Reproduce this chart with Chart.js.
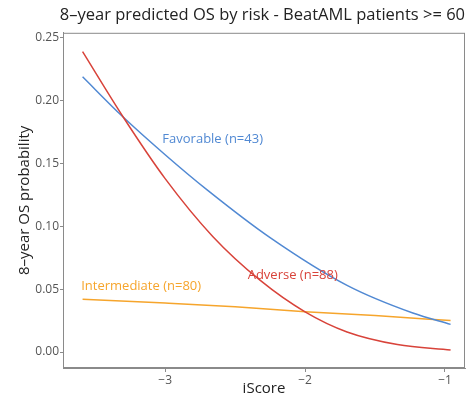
<!DOCTYPE html>
<html lang="en">
  <head>
    <meta charset="UTF-8" />
    <title>8-year predicted OS by risk</title>
    <script src="https://cdn.jsdelivr.net/npm/chart.js"></script>
    <style>
      html, body { margin: 0; padding: 0; background: #fff; }
      .wrap { width: 474px; height: 398px; }
    </style>
  </head>
  <body>
    <div class="wrap"><canvas id="osChart" width="474" height="398"></canvas></div>
    <script>
      // values
      const adverseX = [-3.59, -3.3, -3.0, -2.66, -2.32, -2.0, -1.7, -1.34, -0.96];
      const adverseY = [0.239, 0.187, 0.138, 0.092, 0.057, 0.032, 0.016, 0.006, 0.0016];
      const favorableX = [-3.59, -3.31, -3.0, -2.7, -2.25, -1.7, -1.23, -0.96];
      const favorableY = [0.219, 0.188, 0.157, 0.129, 0.091, 0.053, 0.031, 0.022];
      const intermediateX = [-3.59, -3.0, -2.5, -2.0, -1.5, -0.96];
      const intermediateY = [0.042, 0.039, 0.036, 0.032, 0.029, 0.025];
      const xTicks = [-3, -2, -1];
      const yTicks = [0, 0.05, 0.1, 0.15, 0.2, 0.25];
      const seriesLabels = ["Adverse (n=88)", "Favorable (n=43)", "Intermediate (n=80)"];

      const red = "#d8433a";
      const blue = "#5189d3";
      const orange = "#f6a52c";
      const font = "'Open Sans', 'DejaVu Sans', sans-serif";

      function toPoints(xs, ys) {
        return xs.map((x, i) => ({ x: x, y: ys[i] }));
      }

      // text labels placed at data coordinates
      const curveLabels = [
        { text: seriesLabels[1], x: -3.02, y: 0.169, color: blue },
        { text: seriesLabels[0], x: -2.41, y: 0.061, color: red },
        { text: seriesLabels[2], x: -3.6, y: 0.052, color: orange },
      ];

      const extras = {
        id: "extras",
        afterDraw(chart) {
          const ctx = chart.ctx;
          const a = chart.chartArea;
          const xs = chart.scales.x;
          const ys = chart.scales.y;
          ctx.save();
          ctx.strokeStyle = "#8a8a8a";
          ctx.lineWidth = 1;
          ctx.strokeRect(a.left + 0.5, a.top + 0.5, a.right - a.left - 1, a.bottom - a.top - 1);
          ctx.font = "13px " + font;
          ctx.textBaseline = "middle";
          ctx.textAlign = "left";
          curveLabels.forEach((l) => {
            ctx.fillStyle = l.color;
            ctx.fillText(l.text, xs.getPixelForValue(l.x), ys.getPixelForValue(l.y));
          });
          ctx.restore();
        },
      };

      new Chart(document.getElementById("osChart"), {
        type: "line",
        data: {
          datasets: [
            { label: seriesLabels[0], data: toPoints(adverseX, adverseY), borderColor: red },
            { label: seriesLabels[1], data: toPoints(favorableX, favorableY), borderColor: blue },
            { label: seriesLabels[2], data: toPoints(intermediateX, intermediateY), borderColor: orange },
          ],
        },
        options: {
          responsive: false,
          animation: false,
          datasets: {
            line: { borderWidth: 1.5, pointRadius: 0, cubicInterpolationMode: "monotone", fill: false },
          },
          layout: { padding: { left: 16, right: 9, top: 0, bottom: 0 } },
          plugins: {
            legend: { display: false },
            tooltip: { enabled: false },
            title: {
              display: true,
              text: "8\u2013year predicted OS by risk - BeatAML patients >= 60",
              color: "#222",
              font: { family: font, size: 16.5, weight: "normal" },
              padding: { top: 5, bottom: 8 },
              align: "end",
            },
          },
          scales: {
            x: {
              type: "linear",
              min: -3.73,
              max: -0.857,
              afterBuildTicks: (s) => { s.ticks = xTicks.map((v) => ({ value: v })); },
              afterFit: (s) => { s.height = 30; },
              ticks: {
                color: "#555",
                font: { family: font, size: 12 },
                padding: 1,
                callback: (v) => "\u2212" + Math.abs(v),
              },
              grid: { drawOnChartArea: false, drawTicks: true, tickLength: 4, color: "#8a8a8a" },
              border: { display: true, color: "#8a8a8a" },
              title: {
                display: true,
                text: "iScore",
                color: "#222",
                font: { family: font, size: 15 },
                padding: { top: 0, bottom: 0 },
              },
            },
            y: {
              type: "linear",
              min: -0.0127,
              max: 0.254,
              afterBuildTicks: (s) => { s.ticks = yTicks.map((v) => ({ value: v })); },
              afterFit: (s) => { s.width = 47; },
              ticks: {
                color: "#555",
                font: { family: font, size: 12 },
                padding: 1,
                callback: (v) => v.toFixed(2),
              },
              grid: { drawOnChartArea: false, drawTicks: true, tickLength: 3, color: "#8a8a8a" },
              border: { display: true, color: "#8a8a8a" },
              title: {
                display: true,
                text: "8\u2013year OS probability",
                color: "#222",
                font: { family: font, size: 15 },
                padding: { top: 0, bottom: 0 },
              },
            },
          },
        },
        plugins: [extras],
      });
    </script>
  </body>
</html>
